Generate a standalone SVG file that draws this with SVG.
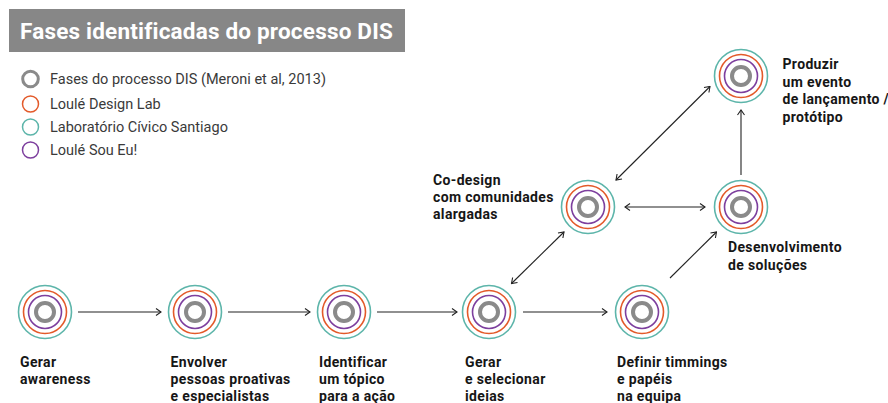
<svg xmlns="http://www.w3.org/2000/svg" width="888" height="403" viewBox="0 0 888 403">
<defs>
<style>
.lbl{font-family:Roboto,"Liberation Sans",sans-serif;font-weight:700;font-size:14px;letter-spacing:0.35px;fill:#161616}
.leg{font-family:Roboto,"Liberation Sans",sans-serif;font-size:14.5px;fill:#3a3a3a}
.t{fill:none;stroke:#5db5aa;stroke-width:1.6}
.o{fill:none;stroke:#e35a2a;stroke-width:1.6}
.p{fill:none;stroke:#7d3f9e;stroke-width:1.6}
.g{fill:none;stroke:#8a8a8a;stroke-width:4}
.c{fill:none;stroke:#222;stroke-width:1.1}
</style>
<marker id="ah" viewBox="0 0 10 10" refX="9" refY="5" markerWidth="10" markerHeight="10" markerUnits="userSpaceOnUse" orient="auto-start-reverse">
<polyline points="4,1.5 9,5 4,8.5" fill="none" stroke="#222" stroke-width="1.1"/>
</marker>
<g id="ring">
<circle class="t" r="26.5"/>
<circle class="o" r="21.5"/>
<circle class="p" r="16.5"/>
<circle class="g" r="9"/>
</g>
</defs>
<rect width="888" height="403" fill="#fff"/>
<g id="title">
<rect x="9" y="9" width="396" height="43" fill="#878787"/>
<text x="20" y="39" font-family="Roboto,'Liberation Sans',sans-serif" font-weight="700" font-size="22.5" letter-spacing="0.2" fill="#fff">Fases identificadas do processo DIS</text>
</g>
<g id="legend">
<circle cx="30.5" cy="79" r="7.8" fill="none" stroke="#8a8a8a" stroke-width="3"/>
<circle cx="30.5" cy="104" r="8" fill="none" stroke="#e35a2a" stroke-width="1.5"/>
<circle cx="30.5" cy="127" r="8" fill="none" stroke="#5db5aa" stroke-width="1.5"/>
<circle cx="30.5" cy="150" r="8" fill="none" stroke="#7d3f9e" stroke-width="1.5"/>
<text class="leg" x="50" y="83.5">Fases do processo DIS (Meroni et al, 2013)</text>
<text class="leg" x="50" y="108.5">Loulé Design Lab</text>
<text class="leg" x="50" y="132">Laboratório Cívico Santiago</text>
<text class="leg" x="50" y="155">Loulé Sou Eu!</text>
</g>
<g id="connectors">
<line class="c" x1="78" y1="312" x2="161" y2="312" marker-end="url(#ah)"/>
<line class="c" x1="228" y1="312" x2="310" y2="312" marker-end="url(#ah)"/>
<line class="c" x1="377" y1="312" x2="457" y2="312" marker-end="url(#ah)"/>
<line class="c" x1="523" y1="312" x2="607" y2="312" marker-end="url(#ah)"/>
<line class="c" x1="511.5" y1="283.5" x2="564" y2="232" marker-start="url(#ah)" marker-end="url(#ah)"/>
<line class="c" x1="616" y1="180" x2="710" y2="86.5" marker-start="url(#ah)" marker-end="url(#ah)"/>
<line class="c" x1="625" y1="207" x2="705" y2="207" marker-start="url(#ah)" marker-end="url(#ah)"/>
<line class="c" x1="741" y1="175" x2="741" y2="110" marker-end="url(#ah)"/>
<line class="c" x1="670" y1="278" x2="716.5" y2="232" marker-end="url(#ah)"/>
</g>
<g id="n1"><use href="#ring" x="45" y="312"/>
<text class="lbl" x="20" y="367">Gerar</text><text class="lbl" x="20" y="384">awareness</text></g>
<g id="n2"><use href="#ring" x="195" y="312"/>
<text class="lbl" x="170.5" y="367">Envolver</text><text class="lbl" x="170.5" y="384">pessoas proativas</text><text class="lbl" x="170.5" y="401">e especialistas</text></g>
<g id="n3"><use href="#ring" x="344" y="312"/>
<text class="lbl" x="319" y="367">Identificar</text><text class="lbl" x="319" y="384">um tópico</text><text class="lbl" x="319" y="401">para a ação</text></g>
<g id="n4"><use href="#ring" x="489" y="312"/>
<text class="lbl" x="465" y="367">Gerar</text><text class="lbl" x="465" y="384">e selecionar</text><text class="lbl" x="465" y="401">ideias</text></g>
<g id="n5"><use href="#ring" x="642" y="312"/>
<text class="lbl" x="617" y="367">Definir timmings</text><text class="lbl" x="617" y="384">e papéis</text><text class="lbl" x="617" y="401">na equipa</text></g>
<g id="n6"><use href="#ring" x="588" y="207"/>
<text class="lbl" x="433" y="185">Co-design</text><text class="lbl" x="433" y="202">com comunidades</text><text class="lbl" x="433" y="219">alargadas</text></g>
<g id="n7"><use href="#ring" x="741" y="207"/>
<text class="lbl" x="728" y="252">Desenvolvimento</text><text class="lbl" x="728" y="269.5">de soluções</text></g>
<g id="n8"><use href="#ring" x="741" y="76"/>
<text class="lbl" x="782.5" y="69">Produzir</text><text class="lbl" x="782.5" y="86.5">um evento</text><text class="lbl" x="782.5" y="104">de lançamento /</text><text class="lbl" x="782.5" y="121.5">protótipo</text></g>
</svg>
